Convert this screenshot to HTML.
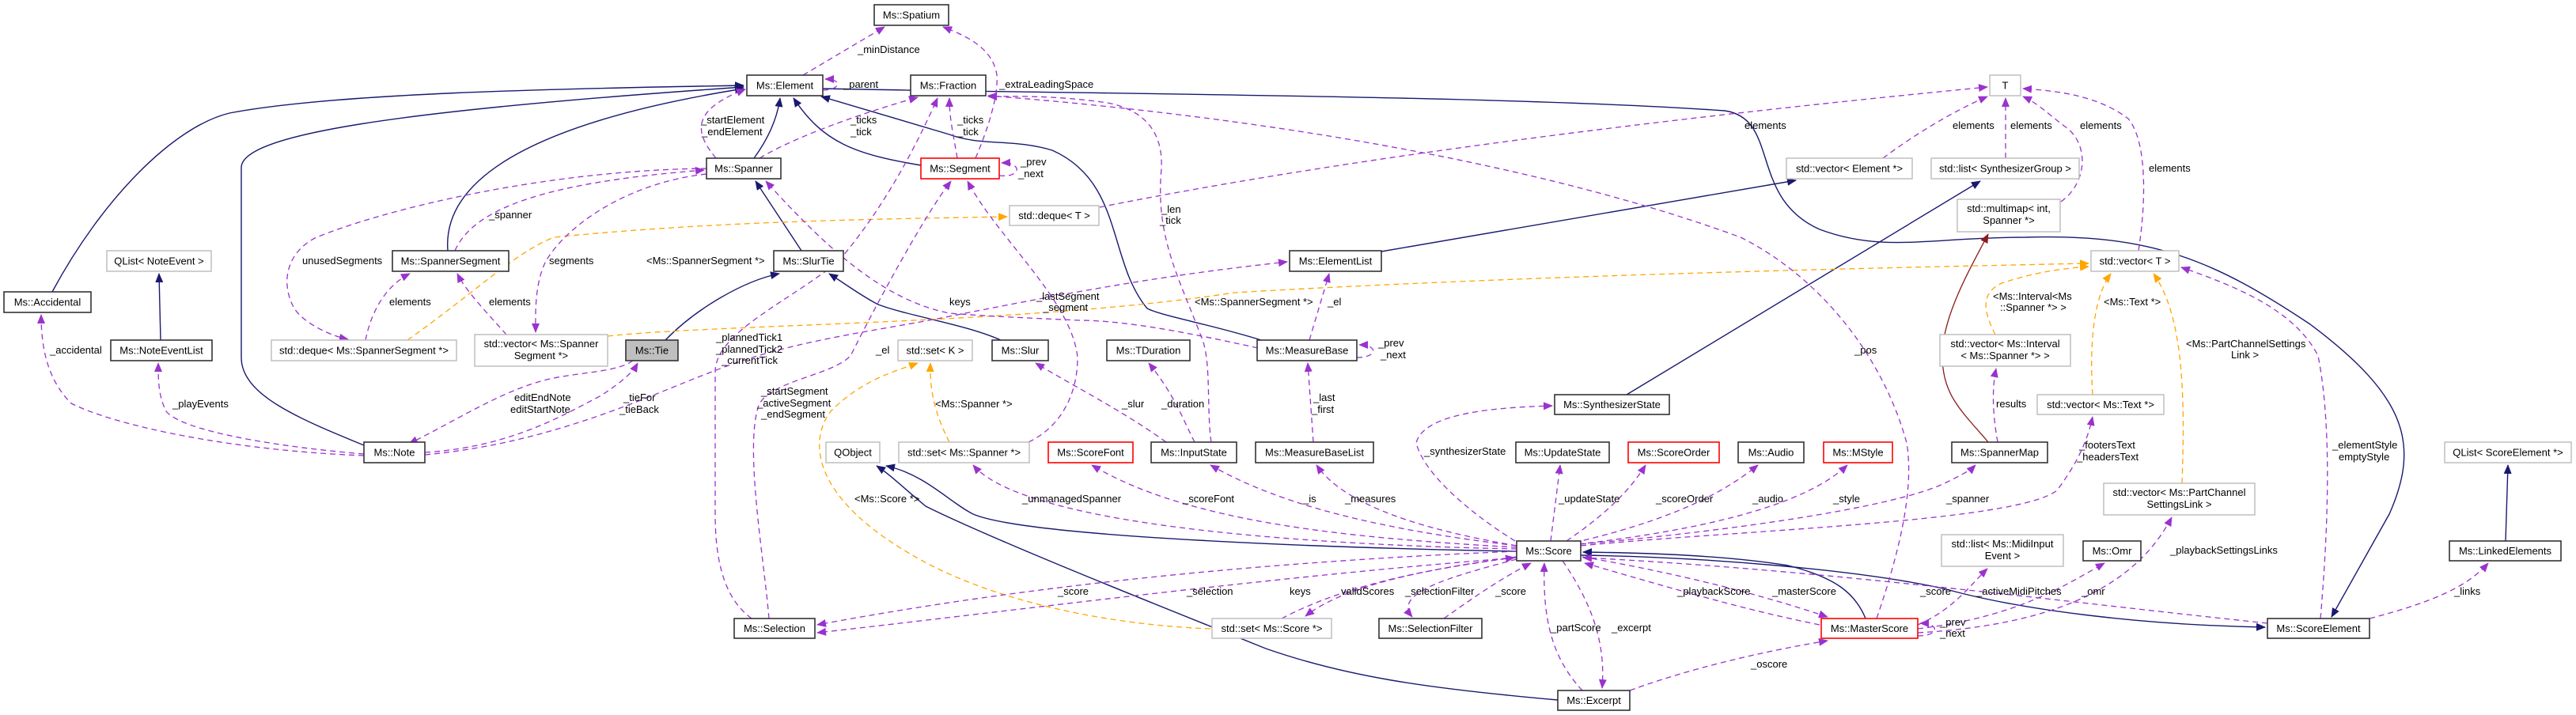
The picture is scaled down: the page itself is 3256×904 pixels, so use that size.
<!DOCTYPE html>
<html><head><meta charset="utf-8">
<style>
html,body{margin:0;padding:0;background:#fff;}
svg{display:block;}
text{font-family:"Liberation Sans",sans-serif;font-size:13px;fill:#000;}
.n{text-anchor:middle;}
.i{fill:none;stroke:#191970;stroke-width:1.4;}
.u{fill:none;stroke:#9a32cd;stroke-width:1.3;stroke-dasharray:7,5;}
.o{fill:none;stroke:#ffa500;stroke-width:1.3;stroke-dasharray:7,5;}
.r{fill:none;stroke:#8b1a1a;stroke-width:1.3;}
.d{fill:#fff;stroke:#333;stroke-width:1.6;}
.g{fill:#fff;stroke:#bfbfbf;stroke-width:1.5;}
.rd{fill:#fff;stroke:#ff0000;stroke-width:1.6;}
.t{fill:#bfbfbf;stroke:#333;stroke-width:1.6;}
</style></head>
<body>
<svg width="3256" height="904" viewBox="0 0 3256 904" xmlns="http://www.w3.org/2000/svg">
<defs>
<marker id="mi" markerWidth="12" markerHeight="10" refX="11" refY="5" orient="auto" markerUnits="userSpaceOnUse"><path d="M0,0 L12,5 L0,10 z" fill="#191970"/></marker>
<marker id="mu" markerWidth="12" markerHeight="10" refX="11" refY="5" orient="auto" markerUnits="userSpaceOnUse"><path d="M0,0 L12,5 L0,10 z" fill="#9a32cd"/></marker>
<marker id="mo" markerWidth="12" markerHeight="10" refX="11" refY="5" orient="auto" markerUnits="userSpaceOnUse"><path d="M0,0 L12,5 L0,10 z" fill="#ffa500"/></marker>
<marker id="mr" markerWidth="12" markerHeight="10" refX="11" refY="5" orient="auto" markerUnits="userSpaceOnUse"><path d="M0,0 L12,5 L0,10 z" fill="#8b1a1a"/></marker>
</defs>

<!-- inheritance edges -->
<g marker-end="url(#mi)">
<path class="i" d="M66,369 C130,250 220,160 290,143 C420,118 700,112 940,108"/>
<path class="i" d="M460,563 C380,530 305,500 305,452 L305,212 C305,170 500,140 940,110"/>
<path class="i" d="M566,317 C560,240 640,160 940,112"/>
<path class="i" d="M953,200 C975,170 983,145 986,124"/>
<path class="i" d="M1164,209 C1080,195 1040,180 1003,124"/>
<path class="i" d="M1013,317 L955,229"/>
<path class="i" d="M841,430 C880,390 940,355 985,346"/>
<path class="i" d="M1265,430 C1220,410 1150,400 1110,385 C1090,375 1070,360 1048,346"/>
<path class="i" d="M1594,430 C1530,410 1470,400 1450,390 C1400,330 1420,230 1330,190 C1280,175 1240,185 1200,170 L1038,122"/>
<path class="i" d="M1040,112 C1300,118 1900,120 2180,140 C2250,150 2210,250 2300,290 C2380,320 2440,300 2560,300 C2720,295 2800,330 2920,410 C3040,500 3060,560 3020,650 L2947,780"/>
<path class="i" d="M1746,318 L2270,228"/>
<path class="i" d="M2056,499 L2503,229"/>
<path class="i" d="M1917,697 C1700,693 1300,680 1230,650 C1200,635 1170,600 1120,589"/>
<path class="i" d="M1969,885 C1800,870 1700,855 1600,820 C1450,760 1250,680 1170,640 C1140,615 1125,600 1108,589"/>
<path class="i" d="M2358,782 C2345,750 2320,730 2260,715 C2180,702 2080,699 2001,698"/>
<path class="i" d="M1998,702 C2150,704 2350,720 2460,745 C2550,770 2700,790 2863,793"/>
<path class="i" d="M3167,684 L3170,588"/>
<path class="i" d="M203,430 L201,346"/>
</g>
<path class="r" marker-end="url(#mr)" d="M2513,559 C2480,520 2455,500 2455,450 C2455,400 2490,340 2513,296"/>

<!-- template (orange) edges -->
<g marker-end="url(#mo)">
<path class="o" d="M515,430 C600,370 650,320 700,300 C900,280 1100,277 1273,274"/>
<path class="o" d="M768,425 C900,410 1300,410 1560,370 C1900,350 2300,340 2640,333"/>
<path class="o" d="M2522,423 C2505,390 2505,370 2530,358 C2570,345 2600,340 2640,337"/>
<path class="o" d="M2645,499 C2640,420 2650,370 2668,346"/>
<path class="o" d="M2758,611 C2762,500 2760,400 2722,346"/>
<path class="o" d="M1200,559 C1180,520 1175,490 1176,459"/>
<path class="o" d="M1530,795 C1400,790 1250,760 1150,700 C1030,630 1020,560 1050,520 C1090,480 1130,470 1160,459"/>
</g>

<!-- usage (purple) edges -->
<g marker-end="url(#mu)">
<path class="u" d="M1015,95 L1118,34"/>
<path class="u" d="M1233,200 C1250,160 1262,120 1260,95 C1255,60 1220,45 1192,34"/>
<path class="u" d="M1040,114 C1062,114 1066,100 1043,100"/>
<path class="u" d="M905,200 C880,170 870,140 942,113"/>
<path class="u" d="M960,200 C1010,170 1100,140 1160,123"/>
<path class="u" d="M1210,200 C1205,170 1200,150 1200,124"/>
<path class="u" d="M1263,222 C1292,225 1292,205 1266,206"/>
<path class="u" d="M1531,559 C1525,520 1531,460 1520,430 C1490,350 1460,300 1468,213 C1470,170 1450,140 1400,130 C1330,120 1280,122 1249,122"/>
<path class="u" d="M950,782 C920,760 904,720 904,650 L904,470 C904,420 1000,380 1060,330 C1120,260 1160,180 1185,124"/>
<path class="u" d="M972,782 C965,700 940,560 960,510 C980,480 1050,475 1075,450 C1110,380 1170,270 1202,229"/>
<path class="u" d="M1300,559 C1340,540 1362,500 1362,452 C1355,380 1260,300 1223,229"/>
<path class="u" d="M1590,440 C1500,420 1420,405 1364,405 C1300,402 1250,400 1200,396 C1120,380 1050,320 968,229"/>
<path class="u" d="M537,575 C700,560 820,500 900,470 C1000,430 1100,420 1200,400 C1400,360 1500,345 1627,331"/>
<path class="u" d="M537,572 C650,565 720,520 760,500 C790,480 800,470 806,459"/>
<path class="u" d="M800,456 C780,470 740,470 700,478 C640,490 580,530 517,561"/>
<path class="u" d="M460,576 C300,570 150,540 90,510 C60,480 52,440 52,398"/>
<path class="u" d="M460,574 C350,565 230,545 210,520 C200,500 200,480 200,459"/>
<path class="u" d="M575,317 C600,260 700,230 890,215"/>
<path class="u" d="M462,430 C470,390 490,360 518,346"/>
<path class="u" d="M640,423 C620,400 590,370 578,346"/>
<path class="u" d="M893,213 C700,215 500,260 400,300 C360,320 355,360 372,390 C385,410 420,425 440,429"/>
<path class="u" d="M893,220 C800,230 720,280 690,330 C675,360 677,400 677,420"/>
<path class="u" d="M1390,262 C1700,200 2100,150 2512,110"/>
<path class="u" d="M2380,200 C2420,170 2470,140 2512,122"/>
<path class="u" d="M2535,200 L2535,124"/>
<path class="u" d="M2605,255 C2640,230 2640,180 2610,160 C2590,145 2575,130 2557,122"/>
<path class="u" d="M2703,317 C2712,260 2715,180 2690,150 C2650,120 2600,115 2557,112"/>
<path class="u" d="M2525,559 C2518,520 2518,490 2523,466"/>
<path class="u" d="M1998,690 C2200,670 2550,660 2600,620 C2630,580 2640,550 2645,527"/>
<path class="u" d="M2933,782 C2940,700 2950,550 2930,450 C2900,390 2820,360 2757,338"/>
<path class="u" d="M1998,688 C2200,670 2400,640 2460,610 C2480,600 2490,595 2497,588"/>
<path class="u" d="M1915,684 C1860,650 1800,600 1790,560 C1800,520 1900,515 1962,513"/>
<path class="u" d="M1960,684 L1972,588"/>
<path class="u" d="M1980,684 C2030,650 2060,620 2080,588"/>
<path class="u" d="M1990,686 C2100,660 2170,630 2222,588"/>
<path class="u" d="M1995,688 C2150,670 2280,640 2335,588"/>
<path class="u" d="M1917,690 C1750,670 1620,640 1530,588"/>
<path class="u" d="M1917,690 C1800,670 1700,640 1664,588"/>
<path class="u" d="M1917,692 C1700,680 1500,660 1380,588"/>
<path class="u" d="M1917,694 C1700,690 1300,670 1230,588"/>
<path class="u" d="M1474,559 C1420,520 1360,490 1309,459"/>
<path class="u" d="M1510,559 C1495,530 1485,500 1452,459"/>
<path class="u" d="M1660,559 L1653,459"/>
<path class="u" d="M1655,430 L1680,346"/>
<path class="u" d="M1715,452 C1742,452 1742,436 1718,436"/>
<path class="u" d="M1917,697 C1600,710 1300,740 1033,790"/>
<path class="u" d="M1917,705 C1600,730 1300,770 1033,800"/>
<path class="u" d="M1620,782 C1700,740 1800,720 1914,705"/>
<path class="u" d="M1917,704 C1800,720 1700,740 1650,779"/>
<path class="u" d="M1917,707 C1830,730 1760,750 1785,780"/>
<path class="u" d="M1825,782 C1870,750 1900,730 1935,712"/>
<path class="u" d="M2000,873 C1960,830 1950,780 1952,712"/>
<path class="u" d="M1975,709 C2010,760 2030,810 2025,870"/>
<path class="u" d="M2300,790 C2200,770 2100,740 2003,712"/>
<path class="u" d="M2000,704 C2150,730 2250,760 2310,780"/>
<path class="u" d="M2866,788 C2600,760 2300,720 2001,705"/>
<path class="u" d="M2060,873 C2150,840 2250,820 2310,810"/>
<path class="u" d="M2424,804 C2452,804 2452,788 2427,788"/>
<path class="u" d="M2424,790 C2470,770 2490,740 2512,719"/>
<path class="u" d="M2424,795 C2550,780 2610,740 2660,712"/>
<path class="u" d="M2424,800 C2600,790 2700,740 2745,654"/>
<path class="u" d="M2995,782 C3080,760 3120,740 3145,712"/>
<path class="u" d="M2372,782 C2400,700 2420,620 2410,560 C2380,450 2300,350 2200,300 C1900,190 1500,140 1249,121"/>
</g>

<!-- edge labels -->
<g>
<text x="1084" y="67">_minDistance</text>
<text x="1263" y="111">_extraLeadingSpace</text>
<text x="1066" y="111">_parent</text>
<text x="886" y="156">_startElement</text>
<text x="887" y="171">_endElement</text>
<text x="1075" y="156">_ticks</text>
<text x="1075" y="171">_tick</text>
<text x="1210" y="156">_ticks</text>
<text x="1210" y="171">_tick</text>
<text x="1290" y="209">_prev</text>
<text x="1287" y="224">_next</text>
<text x="1468" y="269">_len</text>
<text x="1466" y="283">_tick</text>
<text x="2205" y="163">elements</text>
<text x="2468" y="163">elements</text>
<text x="2541" y="163">elements</text>
<text x="2629" y="163">elements</text>
<text x="2716" y="217">elements</text>
<text x="618" y="276">_spanner</text>
<text x="382" y="334">unusedSegments</text>
<text x="694" y="334">segments</text>
<text x="817" y="334">&lt;Ms::SpannerSegment *&gt;</text>
<text x="492" y="386">elements</text>
<text x="618" y="386">elements</text>
<text x="1200" y="386">keys</text>
<text x="1310" y="379">_lastSegment</text>
<text x="1318" y="393">_segment</text>
<text x="1510" y="386">&lt;Ms::SpannerSegment *&gt;</text>
<text x="1678" y="386">_el</text>
<text x="2519" y="379">&lt;Ms::Interval&lt;Ms</text>
<text x="2528" y="393">::Spanner *&gt; &gt;</text>
<text x="2659" y="386">&lt;Ms::Text *&gt;</text>
<text x="2763" y="439">&lt;Ms::PartChannelSettings</text>
<text x="2820" y="453">Link &gt;</text>
<text x="905" y="431">_plannedTick1</text>
<text x="905" y="446">_plannedTick2</text>
<text x="912" y="460">_currentTick</text>
<text x="1107" y="447">_el</text>
<text x="1742" y="438">_prev</text>
<text x="1745" y="453">_next</text>
<text x="2344" y="447">_pos</text>
<text x="63" y="447">_accidental</text>
<text x="962" y="499">_startSegment</text>
<text x="957" y="514">_activeSegment</text>
<text x="962" y="528">_endSegment</text>
<text x="650" y="507">editEndNote</text>
<text x="645" y="522">editStartNote</text>
<text x="788" y="507">_tieFor</text>
<text x="783" y="522">_tieBack</text>
<text x="218" y="515">_playEvents</text>
<text x="1182" y="515">&lt;Ms::Spanner *&gt;</text>
<text x="1418" y="515">_slur</text>
<text x="1468" y="515">_duration</text>
<text x="1660" y="507">_last</text>
<text x="1658" y="522">_first</text>
<text x="2523" y="515">results</text>
<text x="1800" y="575">_synthesizerState</text>
<text x="2628" y="567">_footersText</text>
<text x="2625" y="582">_headersText</text>
<text x="2948" y="567">_elementStyle</text>
<text x="2956" y="582">emptyStyle</text>
<text x="1080" y="635">&lt;Ms::Score *&gt;</text>
<text x="1292" y="635">_unmanagedSpanner</text>
<text x="1495" y="635">_scoreFont</text>
<text x="1647" y="635">_is</text>
<text x="1700" y="635">_measures</text>
<text x="1970" y="635">_updateState</text>
<text x="2093" y="635">_scoreOrder</text>
<text x="2215" y="635">_audio</text>
<text x="2317" y="635">_style</text>
<text x="2460" y="635">_spanner</text>
<text x="2743" y="700">_playbackSettingsLinks</text>
<text x="1337" y="752">_score</text>
<text x="1500" y="752">_selection</text>
<text x="1630" y="752">keys</text>
<text x="1695" y="752">validScores</text>
<text x="1776" y="752">_selectionFilter</text>
<text x="1890" y="752">_score</text>
<text x="2120" y="752">_playbackScore</text>
<text x="2240" y="752">_masterScore</text>
<text x="2427" y="752">_score</text>
<text x="2498" y="752">_activeMidiPitches</text>
<text x="2631" y="752">_omr</text>
<text x="3102" y="752">_links</text>
<text x="2452" y="791">_prev</text>
<text x="2452" y="805">_next</text>
<text x="1960" y="798">_partScore</text>
<text x="2037" y="798">_excerpt</text>
<text x="2213" y="844">_oscore</text>
</g>

<!-- nodes -->
<g>
<rect class="d" x="1105" y="6" width="94" height="26"/><text class="n" x="1152" y="23.5">Ms::Spatium</text>
<rect class="d" x="944" y="95" width="96" height="26"/><text class="n" x="992" y="112.5">Ms::Element</text>
<rect class="d" x="1151" y="95" width="95" height="26"/><text class="n" x="1198.5" y="112.5">Ms::Fraction</text>
<rect class="g" x="2515" y="95" width="39" height="26"/><text class="n" x="2534.5" y="112.5">T</text>
<rect class="d" x="893" y="200" width="94" height="26"/><text class="n" x="940" y="217.5">Ms::Spanner</text>
<rect class="rd" x="1164" y="200" width="99" height="26"/><text class="n" x="1213.5" y="217.5">Ms::Segment</text>
<rect class="g" x="2258" y="200" width="159" height="26"/><text class="n" x="2337.5" y="217.5">std::vector&lt; Element *&gt;</text>
<rect class="g" x="2441" y="200" width="187" height="26"/><text class="n" x="2534.5" y="217.5">std::list&lt; SynthesizerGroup &gt;</text>
<rect class="g" x="2474" y="252" width="130" height="41"/><text class="n" x="2539" y="268">std::multimap&lt; int,</text><text class="n" x="2539" y="283">Spanner *&gt;</text>
<rect class="g" x="1276" y="260" width="113" height="25"/><text class="n" x="1332.5" y="277">std::deque&lt; T &gt;</text>
<rect class="g" x="135" y="317" width="132" height="26"/><text class="n" x="201" y="334.5">QList&lt; NoteEvent &gt;</text>
<rect class="d" x="496" y="317" width="147" height="26"/><text class="n" x="569.5" y="334.5">Ms::SpannerSegment</text>
<rect class="d" x="978" y="317" width="88" height="26"/><text class="n" x="1022" y="334.5">Ms::SlurTie</text>
<rect class="d" x="1630" y="317" width="116" height="26"/><text class="n" x="1688" y="334.5">Ms::ElementList</text>
<rect class="g" x="2643" y="317" width="111" height="26"/><text class="n" x="2698.5" y="334.5">std::vector&lt; T &gt;</text>
<rect class="d" x="5" y="369" width="110" height="26"/><text class="n" x="60" y="386.5">Ms::Accidental</text>
<rect class="d" x="140" y="430" width="128" height="26"/><text class="n" x="204" y="447.5">Ms::NoteEventList</text>
<rect class="g" x="343" y="430" width="234" height="26"/><text class="n" x="460" y="447.5">std::deque&lt; Ms::SpannerSegment *&gt;</text>
<rect class="g" x="600" y="423" width="168" height="40"/><text class="n" x="684" y="439">std::vector&lt; Ms::Spanner</text><text class="n" x="684" y="454">Segment *&gt;</text>
<rect class="t" x="791" y="430" width="66" height="26"/><text class="n" x="824" y="447.5">Ms::Tie</text>
<rect class="g" x="1135" y="430" width="94" height="26"/><text class="n" x="1182" y="447.5">std::set&lt; K &gt;</text>
<rect class="d" x="1254" y="430" width="71" height="26"/><text class="n" x="1289.5" y="447.5">Ms::Slur</text>
<rect class="d" x="1399" y="430" width="105" height="26"/><text class="n" x="1451.5" y="447.5">Ms::TDuration</text>
<rect class="d" x="1589" y="430" width="126" height="26"/><text class="n" x="1652" y="447.5">Ms::MeasureBase</text>
<rect class="g" x="2452" y="423" width="165" height="40"/><text class="n" x="2534.5" y="439">std::vector&lt; Ms::Interval</text><text class="n" x="2534.5" y="454">&lt; Ms::Spanner *&gt; &gt;</text>
<rect class="d" x="1965" y="499" width="145" height="25"/><text class="n" x="2037.5" y="516">Ms::SynthesizerState</text>
<rect class="g" x="2575" y="499" width="160" height="25"/><text class="n" x="2655" y="516">std::vector&lt; Ms::Text *&gt;</text>
<rect class="d" x="460" y="559" width="77" height="26"/><text class="n" x="498.5" y="576.5">Ms::Note</text>
<rect class="g" x="1044" y="559" width="68" height="26"/><text class="n" x="1078" y="576.5">QObject</text>
<rect class="g" x="1136" y="559" width="165" height="26"/><text class="n" x="1218.5" y="576.5">std::set&lt; Ms::Spanner *&gt;</text>
<rect class="rd" x="1325" y="559" width="107" height="26"/><text class="n" x="1378.5" y="576.5">Ms::ScoreFont</text>
<rect class="d" x="1455" y="559" width="108" height="26"/><text class="n" x="1509" y="576.5">Ms::InputState</text>
<rect class="d" x="1587" y="559" width="149" height="26"/><text class="n" x="1661.5" y="576.5">Ms::MeasureBaseList</text>
<rect class="d" x="1916" y="559" width="118" height="26"/><text class="n" x="1975" y="576.5">Ms::UpdateState</text>
<rect class="rd" x="2058" y="559" width="115" height="26"/><text class="n" x="2115.5" y="576.5">Ms::ScoreOrder</text>
<rect class="d" x="2197" y="559" width="83" height="26"/><text class="n" x="2238.5" y="576.5">Ms::Audio</text>
<rect class="rd" x="2305" y="559" width="87" height="26"/><text class="n" x="2348.5" y="576.5">Ms::MStyle</text>
<rect class="d" x="2467" y="559" width="121" height="26"/><text class="n" x="2527.5" y="576.5">Ms::SpannerMap</text>
<rect class="g" x="3090" y="559" width="160" height="26"/><text class="n" x="3170" y="576.5">QList&lt; ScoreElement *&gt;</text>
<rect class="g" x="2659" y="611" width="191" height="40"/><text class="n" x="2754.5" y="627">std::vector&lt; Ms::PartChannel</text><text class="n" x="2754.5" y="642">SettingsLink &gt;</text>
<rect class="g" x="2454" y="676" width="154" height="40"/><text class="n" x="2531" y="692">std::list&lt; Ms::MidiInput</text><text class="n" x="2531" y="707">Event &gt;</text>
<rect class="d" x="1917" y="684" width="81" height="25"/><text class="n" x="1957.5" y="701">Ms::Score</text>
<rect class="d" x="2633" y="684" width="73" height="25"/><text class="n" x="2669.5" y="701">Ms::Omr</text>
<rect class="d" x="3096" y="684" width="141" height="25"/><text class="n" x="3166.5" y="701">Ms::LinkedElements</text>
<rect class="d" x="928" y="782" width="102" height="25"/><text class="n" x="979" y="799">Ms::Selection</text>
<rect class="g" x="1532" y="782" width="151" height="25"/><text class="n" x="1607.5" y="799">std::set&lt; Ms::Score *&gt;</text>
<rect class="d" x="1743" y="782" width="130" height="25"/><text class="n" x="1808" y="799">Ms::SelectionFilter</text>
<rect class="rd" x="2302" y="782" width="122" height="25"/><text class="n" x="2363" y="799">Ms::MasterScore</text>
<rect class="d" x="2866" y="782" width="129" height="25"/><text class="n" x="2930.5" y="799">Ms::ScoreElement</text>
<rect class="d" x="1969" y="873" width="91" height="25"/><text class="n" x="2014.5" y="890">Ms::Excerpt</text>
</g>
</svg>
</body></html>
